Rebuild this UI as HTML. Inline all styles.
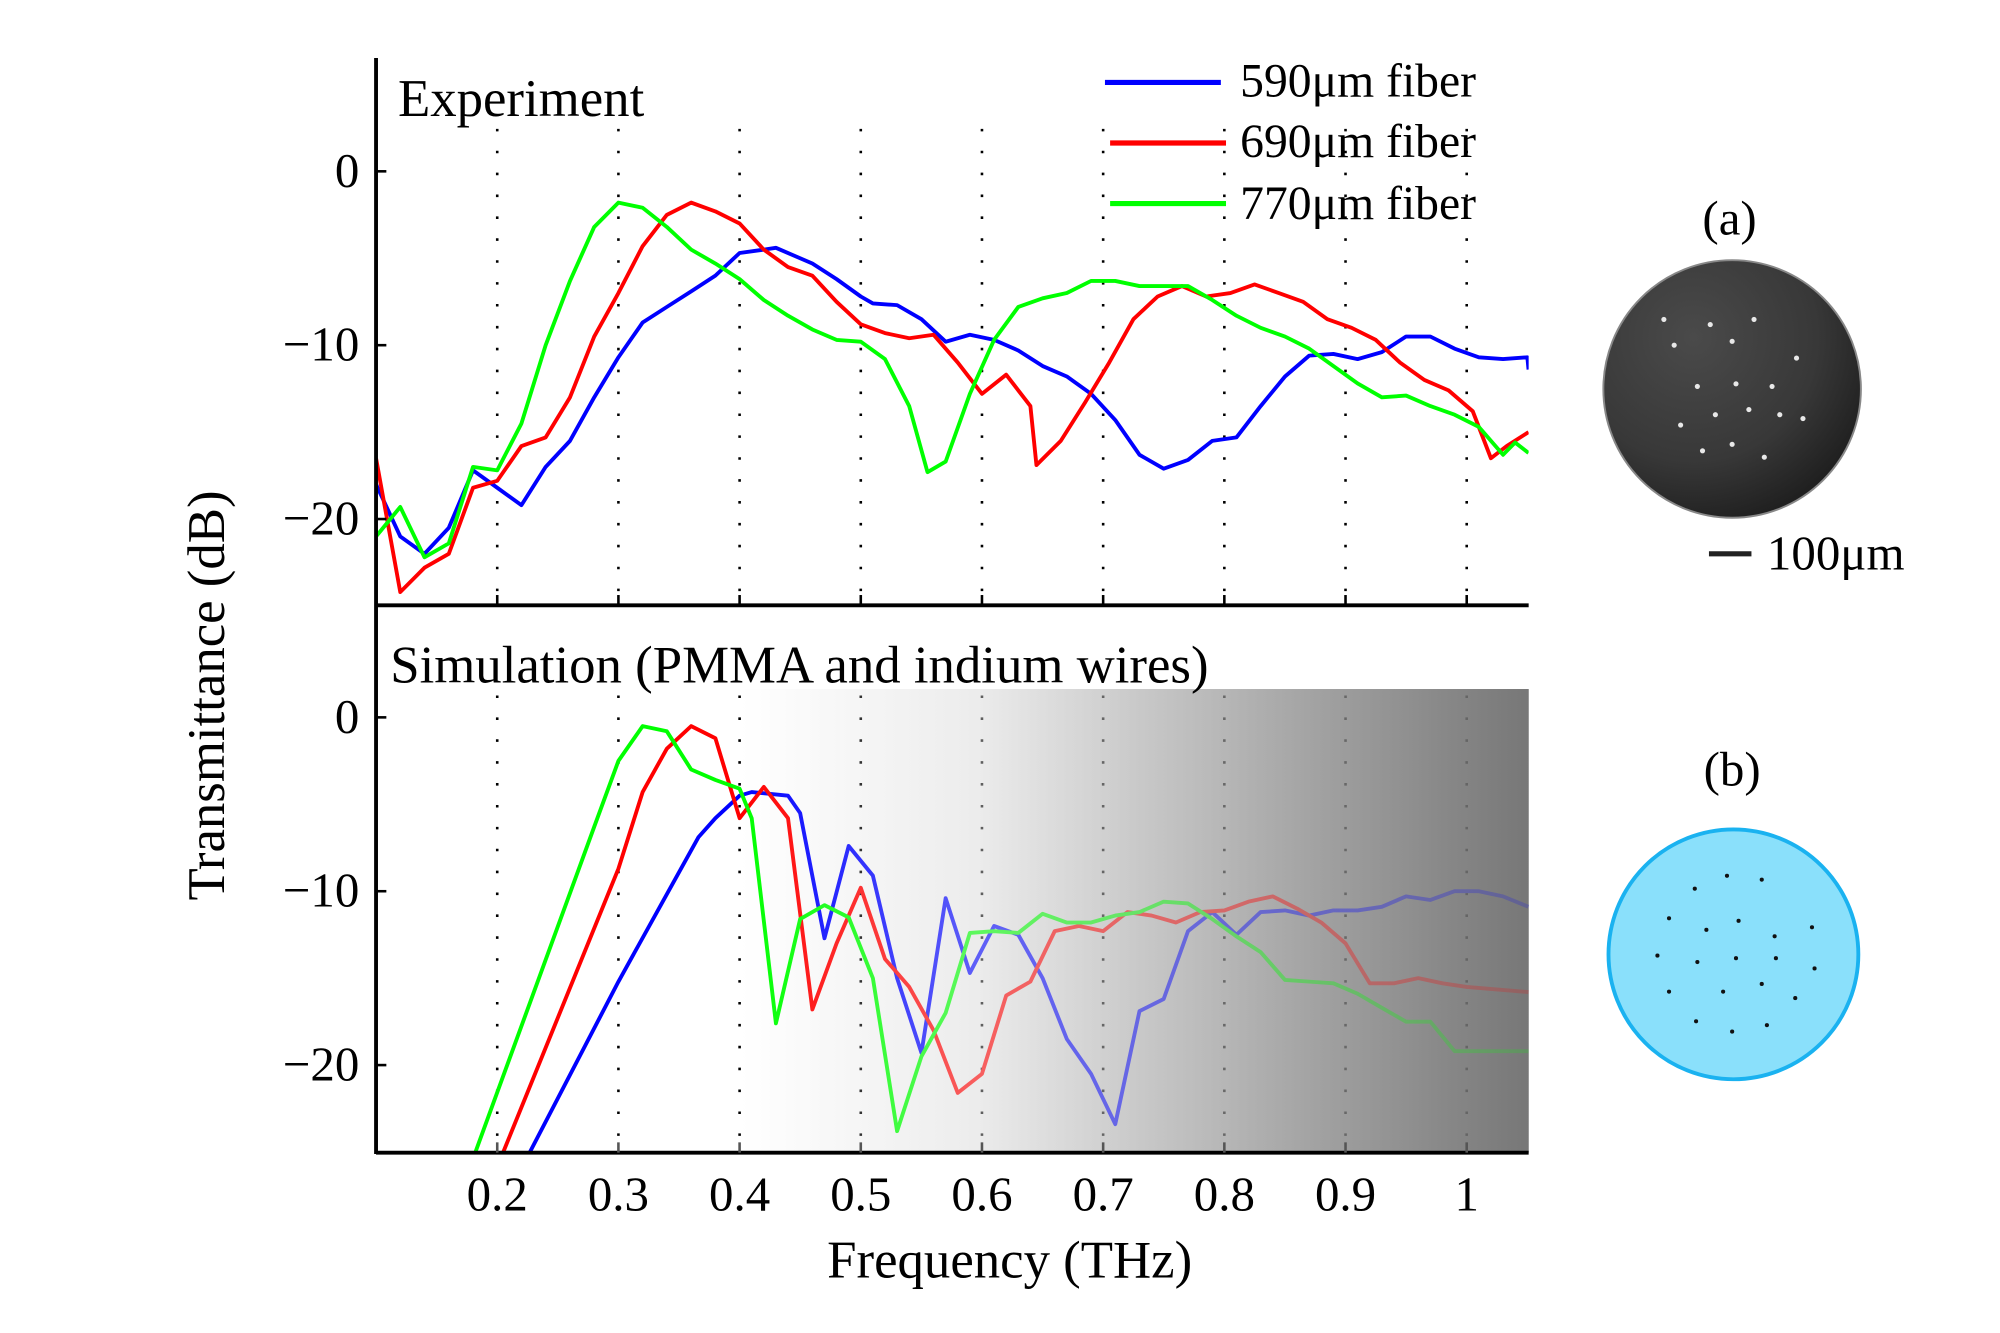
<!DOCTYPE html>
<html><head><meta charset="utf-8">
<style>
html,body{margin:0;padding:0;background:#fff;}
svg{display:block;font-family:"Liberation Serif",serif;}
</style></head>
<body>
<svg id="chart" width="2000" height="1333" viewBox="0 0 1553 1035" xmlns="http://www.w3.org/2000/svg">
<defs>
<linearGradient id="bgGrad" x1="0" x2="1" y1="0" y2="0">
<stop offset="0" stop-color="#ffffff"/><stop offset="0.3" stop-color="#ececec"/><stop offset="1" stop-color="#777777"/>
</linearGradient>
<linearGradient id="ovGrad" x1="0" x2="1" y1="0" y2="0">
<stop offset="0" stop-color="#ffffff" stop-opacity="0"/><stop offset="0.3" stop-color="#ececec" stop-opacity="0.4"/><stop offset="0.7" stop-color="#a6a6a6" stop-opacity="0.62"/><stop offset="1" stop-color="#777777" stop-opacity="0.82"/>
</linearGradient>
<radialGradient id="semGrad" cx="0.35" cy="0.3" r="0.8">
<stop offset="0" stop-color="#4a4a4a"/><stop offset="0.6" stop-color="#383838"/><stop offset="1" stop-color="#1a1a1a"/>
</radialGradient>
</defs>
<rect x="575" y="535" width="612" height="360" fill="url(#bgGrad)"/>
<g id="grid"></g>
<g id="lines"></g>
<rect x="575" y="535" width="612" height="360" fill="url(#ovGrad)"/>
<g id="axes"></g>
<text x="309" y="90" font-size="41">Experiment</text>
<text x="303" y="530" font-size="41">Simulation (PMMA and indium wires)</text>
<text transform="translate(174,540) rotate(-90)" text-anchor="middle" font-size="41">Transmittance (dB)</text>
<text x="784" y="992" text-anchor="middle" font-size="41">Frequency (THz)</text>
<g>
<line x1="858" y1="64" x2="948" y2="64" stroke="#0000ff" stroke-width="4"/>
<text x="963" y="75" font-size="37">590μm fiber</text>
<line x1="862" y1="111" x2="952" y2="111" stroke="#ff0000" stroke-width="4"/>
<text x="963" y="122" font-size="37">690μm fiber</text>
<line x1="862" y1="158" x2="952" y2="158" stroke="#00ff00" stroke-width="4"/>
<text x="963" y="170" font-size="37">770μm fiber</text>
</g>
<text x="1343" y="182" text-anchor="middle" font-size="38">(a)</text>
<circle cx="1345" cy="302" r="100" fill="url(#semGrad)" stroke="#888" stroke-width="1.5"/>
<g id="semdots" fill="#e8e8e8"></g>
<line x1="1327" y1="430" x2="1360" y2="430" stroke="#222" stroke-width="4"/>
<text x="1372" y="442" font-size="38">100μm</text>
<text x="1345" y="610" text-anchor="middle" font-size="38">(b)</text>
<circle cx="1346" cy="741" r="97" fill="#8ae0fb" stroke="#1ab2f0" stroke-width="3"/>
<g id="schdots" fill="#111"></g>
</svg>
<script>
const NS="http://www.w3.org/2000/svg";
const xTicks=[0.2,0.3,0.4,0.5,0.6,0.7,0.8,0.9,1.0];
const xTickLabels=["0.2","0.3","0.4","0.5","0.6","0.7","0.8","0.9","1"];
const yTicks=[0,-10,-20];
const yTickLabels=["0","−10","−20"];
const seriesColors=["#0000ff","#ff0000","#00ff00"];
const seriesNames=["590","690","770"];
const expFreq590=[0.1,0.12,0.14,0.16,0.18,0.2,0.22,0.24,0.26,0.28,0.30,0.32,0.34,0.36,0.38,0.40,0.42,0.43,0.46,0.48,0.50,0.51,0.53,0.55,0.57,0.59,0.61,0.63,0.65,0.67,0.69,0.71,0.73,0.75,0.77,0.79,0.81,0.83,0.85,0.87,0.89,0.91,0.93,0.95,0.97,0.99,1.01,1.03,1.05,1.051];
const exp590=[-18,-21,-22,-20.5,-17.2,-18.2,-19.2,-17,-15.5,-13,-10.7,-8.7,-7.8,-6.9,-6,-4.7,-4.5,-4.4,-5.3,-6.2,-7.2,-7.6,-7.7,-8.5,-9.8,-9.4,-9.7,-10.3,-11.2,-11.8,-12.8,-14.3,-16.3,-17.1,-16.6,-15.5,-15.3,-13.5,-11.8,-10.6,-10.5,-10.8,-10.4,-9.5,-9.5,-10.2,-10.7,-10.8,-10.7,-11.4];
const expFreq690=[0.1,0.12,0.14,0.16,0.18,0.2,0.22,0.24,0.26,0.28,0.30,0.32,0.34,0.36,0.38,0.40,0.42,0.44,0.46,0.48,0.50,0.52,0.54,0.56,0.58,0.60,0.62,0.64,0.645,0.665,0.685,0.705,0.725,0.745,0.765,0.785,0.805,0.825,0.845,0.865,0.885,0.905,0.925,0.945,0.965,0.985,1.005,1.02,1.033,1.051];
const exp690=[-16.5,-24.2,-22.8,-22,-18.2,-17.8,-15.8,-15.3,-13,-9.5,-7,-4.3,-2.5,-1.8,-2.3,-3,-4.5,-5.5,-6,-7.5,-8.8,-9.3,-9.6,-9.4,-11,-12.8,-11.7,-13.5,-16.9,-15.5,-13.3,-11,-8.5,-7.2,-6.6,-7.2,-7,-6.5,-7,-7.5,-8.5,-9,-9.7,-11,-12,-12.6,-13.8,-16.5,-15.8,-15];
const expFreq770=[0.1,0.12,0.14,0.16,0.18,0.20,0.22,0.24,0.26,0.28,0.30,0.32,0.34,0.36,0.38,0.40,0.42,0.44,0.46,0.48,0.50,0.52,0.54,0.555,0.57,0.59,0.61,0.63,0.65,0.67,0.69,0.71,0.73,0.75,0.77,0.79,0.81,0.83,0.85,0.87,0.89,0.91,0.93,0.95,0.97,0.99,1.01,1.03,1.04,1.051];
const exp770=[-21,-19.3,-22.2,-21.4,-17,-17.2,-14.5,-10,-6.3,-3.2,-1.8,-2.1,-3.2,-4.5,-5.3,-6.2,-7.4,-8.3,-9.1,-9.7,-9.8,-10.8,-13.5,-17.3,-16.7,-12.8,-9.7,-7.8,-7.3,-7,-6.3,-6.3,-6.6,-6.6,-6.6,-7.4,-8.3,-9,-9.5,-10.2,-11.2,-12.2,-13,-12.9,-13.5,-14,-14.7,-16.3,-15.6,-16.2];
const simFreq590=[0.227,0.30,0.366,0.38,0.40,0.41,0.44,0.45,0.47,0.49,0.51,0.53,0.55,0.57,0.59,0.61,0.63,0.65,0.67,0.69,0.71,0.73,0.75,0.77,0.79,0.81,0.83,0.85,0.87,0.89,0.91,0.93,0.95,0.97,0.99,1.01,1.03,1.051];
const sim590=[-25,-15.2,-6.9,-5.8,-4.5,-4.3,-4.5,-5.5,-12.7,-7.4,-9.1,-15,-19.3,-10.4,-14.7,-12,-12.5,-15,-18.5,-20.5,-23.4,-16.9,-16.2,-12.3,-11.2,-12.5,-11.2,-11.1,-11.4,-11.1,-11.1,-10.9,-10.3,-10.5,-10,-10,-10.3,-10.9];
const simFreq690=[0.205,0.30,0.32,0.34,0.36,0.38,0.40,0.42,0.44,0.46,0.48,0.50,0.52,0.54,0.56,0.58,0.60,0.62,0.64,0.66,0.68,0.70,0.72,0.74,0.76,0.78,0.80,0.82,0.84,0.86,0.88,0.90,0.92,0.94,0.96,0.98,1.00,1.051];
const sim690=[-25,-8.7,-4.3,-1.8,-0.5,-1.2,-5.8,-4,-5.8,-16.8,-13,-9.8,-13.9,-15.5,-18,-21.6,-20.5,-16,-15.2,-12.3,-12,-12.3,-11.2,-11.4,-11.8,-11.2,-11.1,-10.6,-10.3,-11,-11.8,-13,-15.3,-15.3,-15,-15.3,-15.5,-15.8];
const simFreq770=[0.182,0.28,0.30,0.32,0.34,0.36,0.38,0.40,0.41,0.43,0.45,0.47,0.49,0.51,0.53,0.55,0.57,0.59,0.61,0.63,0.65,0.67,0.69,0.71,0.73,0.75,0.77,0.79,0.81,0.83,0.85,0.87,0.89,0.91,0.93,0.95,0.97,0.99,1.051];
const sim770=[-25,-6.3,-2.5,-0.5,-0.8,-3,-3.6,-4.1,-5.8,-17.6,-11.6,-10.8,-11.5,-15,-23.8,-19.5,-17,-12.4,-12.3,-12.4,-11.3,-11.8,-11.8,-11.4,-11.2,-10.6,-10.7,-11.6,-12.6,-13.5,-15.1,-15.2,-15.3,-15.9,-16.7,-17.5,-17.5,-19.2,-19.2];

const X0=292,X1=1187;
function xs(f){return 292+(f-0.1)*941;}
function ysTop(v){return 133-v*13.5;}
function ysBot(v){return 557-v*13.5;}
function mk(tag,attrs,parent){const e=document.createElementNS(NS,tag);for(const k in attrs)e.setAttribute(k,attrs[k]);parent.appendChild(e);return e;}

const grid=document.getElementById('grid');
const lines=document.getElementById('lines');
const axes=document.getElementById('axes');

xTicks.forEach((t,i)=>{
  const g1=mk('line',{x1:xs(t),x2:xs(t),y1:100,y2:470,stroke:'#000','stroke-width':2,'stroke-dasharray':'2 15'},grid);
  
  
  const g2=mk('line',{x1:xs(t),x2:xs(t),y1:540,y2:895,stroke:'#000','stroke-width':2,'stroke-dasharray':'2 15'},grid);
  
  
});

const defs=document.querySelector('defs');
const cp1=mk('clipPath',{id:'clipTop'},defs);mk('rect',{x:X0,y:40,width:X1-X0,height:430},cp1);
const cp2=mk('clipPath',{id:'clipBot'},defs);mk('rect',{x:X0,y:472,width:X1-X0,height:423},cp2);

function drawSeries(fs,vs,ys,color,name,clip){
  const pts=fs.map((f,i)=>xs(f).toFixed(1)+','+ys(vs[i]).toFixed(1)).join(' ');
  const p=mk('polyline',{points:pts,fill:'none',stroke:color,'stroke-width':3,'stroke-linejoin':'round','clip-path':'url(#'+clip+')'},lines);
  
  
}
drawSeries(expFreq590,exp590,ysTop,seriesColors[0],'experiment-line-590','clipTop');
drawSeries(expFreq690,exp690,ysTop,seriesColors[1],'experiment-line-690','clipTop');
drawSeries(expFreq770,exp770,ysTop,seriesColors[2],'experiment-line-770','clipTop');
drawSeries(simFreq590,sim590,ysBot,seriesColors[0],'simulation-line-590','clipBot');
drawSeries(simFreq690,sim690,ysBot,seriesColors[1],'simulation-line-690','clipBot');
drawSeries(simFreq770,sim770,ysBot,seriesColors[2],'simulation-line-770','clipBot');

let a=mk('line',{x1:X0,x2:X0,y1:45,y2:896,stroke:'#000','stroke-width':3},axes);


a=mk('line',{x1:X0,x2:X1,y1:470,y2:470,stroke:'#000','stroke-width':3},axes);


a=mk('line',{x1:X0,x2:X1,y1:895,y2:895,stroke:'#000','stroke-width':3},axes);


xTicks.forEach((t,i)=>{
  const t1=mk('line',{x1:xs(t),x2:xs(t),y1:462,y2:470,stroke:'#000','stroke-width':2},axes);
  
  
  const t2=mk('line',{x1:xs(t),x2:xs(t),y1:887,y2:895,stroke:'#555','stroke-width':2},axes);
  
  
  const lb=mk('text',{x:xs(t),y:940,'text-anchor':'middle','font-size':38},axes);
  lb.textContent=xTickLabels[i];
  
  
});
[[ysTop,'top'],[ysBot,'bottom']].forEach(([ys,p])=>{
  yTicks.forEach((v,i)=>{
    const tk=mk('line',{x1:X0,x2:X0+8,y1:ys(v),y2:ys(v),stroke:'#000','stroke-width':2},axes);
    
    
    const lb=mk('text',{x:279,y:ys(v)+12,'text-anchor':'end','font-size':38},axes);
    lb.textContent=yTickLabels[i];
    
    
  });
});

const semPts=[[1300,268],[1328,252],[1345,265],[1362,248],[1318,300],[1348,298],[1376,300],[1305,330],[1332,322],[1358,318],[1382,322],[1322,350],[1345,345],[1370,355],[1400,325],[1395,278],[1292,248]];
const sd=document.getElementById('semdots');
semPts.forEach((p,i)=>{const c=mk('circle',{cx:p[0],cy:p[1],r:2},sd);});
const schPts=[[1316,690],[1341,680],[1368,683],[1296,713],[1325,722],[1350,715],[1378,727],[1407,720],[1287,742],[1318,747],[1348,744],[1379,744],[1409,752],[1296,770],[1338,770],[1368,764],[1394,775],[1317,793],[1345,801],[1372,796]];
const scd=document.getElementById('schdots');
schPts.forEach((p,i)=>{const c=mk('circle',{cx:p[0],cy:p[1],r:1.6},scd);});
</script>
</body></html>
